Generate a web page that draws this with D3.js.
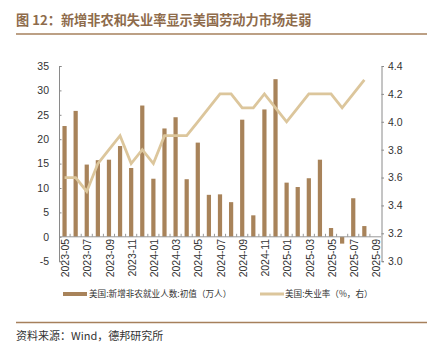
<!DOCTYPE html>
<html><head><meta charset="utf-8">
<script src="https://cdn.jsdelivr.net/npm/d3@7/dist/d3.min.js"></script>
<style>body{margin:0;background:#fff}svg{display:block}</style>
</head><body><div id="chart"></div>
<script>
const months = ["2023-05","2023-06","2023-07","2023-08","2023-09","2023-10","2023-11","2023-12","2024-01","2024-02","2024-03","2024-04","2024-05","2024-06","2024-07","2024-08","2024-09","2024-10","2024-11","2024-12","2025-01","2025-02","2025-03","2025-04","2025-05","2025-06","2025-07","2025-08","2025-09"];
const nfp = [22.7,25.8,14.8,15.7,15.8,18.6,14.1,26.9,11.9,22.2,24.5,11.8,19.3,8.6,8.7,7.1,24.0,4.4,26.1,32.3,11.1,10.2,12.0,15.8,1.8,-1.4,7.9,2.2,null];
const unemp = [3.6,3.6,3.5,3.7,3.8,3.9,3.7,3.8,3.7,3.9,3.9,3.9,4.0,4.1,4.2,4.2,4.1,4.1,4.2,4.1,4.0,4.1,4.2,4.2,4.2,4.1,4.2,4.3,null];
const leftTicks = [-5,0,5,10,15,20,25,30,35];
const rightTicks = [3.0,3.2,3.4,3.6,3.8,4.0,4.2,4.4];
const title = "图 12：新增非农和失业率显示美国劳动力市场走弱";
const seriesNames = ["美国:新增非农就业人数:初值（万人）","美国:失业率（%，右）"];
const source = "资料来源：Wind，德邦研究所";

const W = 435, H = 360;
const barColor = "#A8835A", lineColor = "#DCC69C", brown = "#8E6B4B", axisColor = "#8a8a8a";
const svg = d3.select("#chart").append("svg").attr("width", W).attr("height", H);

// title
svg.append("text").attr("x", 16).attr("y", 25).attr("fill", brown)
  .attr("font-family", "'Noto Sans CJK SC', sans-serif").attr("font-weight", "bold")
  .attr("font-size", 13.2).text(title);
svg.append("line").attr("x1", 16).attr("x2", 427).attr("y1", 34).attr("y2", 34)
  .attr("stroke", "#A6805C").attr("stroke-width", 1.6);

const x = d3.scaleBand().domain(months).range([59, 381]).padding(0);
const yL = d3.scaleLinear().domain([-5, 35]).range([261.2, 66]);
const yR = d3.scaleLinear().domain([3.0, 4.4]).range([261.2, 66]);

// bars
const bw = x.bandwidth() * 0.38;
svg.append("g").selectAll("rect").data(months.map((m, i) => ({m, v: nfp[i]})).filter(d => d.v != null))
  .join("rect")
  .attr("x", d => x(d.m) + x.bandwidth() / 2 - bw / 2)
  .attr("width", bw)
  .attr("y", d => yL(Math.max(0, d.v)))
  .attr("height", d => Math.abs(yL(d.v) - yL(0)))
  .attr("fill", barColor);

// x axis at 0
const x0 = yL(0);
svg.append("line").attr("x1", 59).attr("x2", 381).attr("y1", x0).attr("y2", x0)
  .attr("stroke", "#999").attr("stroke-width", 1);
const xg = svg.append("g");
months.forEach((m, i) => {
  if (i > 0) xg.append("line").attr("x1", x(m)).attr("x2", x(m)).attr("y1", x0).attr("y2", x0 - 3).attr("stroke", "#999");
});
svg.append("g").selectAll("text").data(months.filter((m, i) => i % 2 === 0)).join("text")
  .attr("transform", d => `translate(${x(d) + x.bandwidth() / 2 + 1},${x0 + 2}) rotate(-90)`)
  .attr("text-anchor", "end").attr("dy", "0.35em")
  .attr("font-family", "Arial, 'Liberation Sans', sans-serif").attr("font-size", 10.5).attr("fill", "#333")
  .text(d => d);

// left axis
const la = d3.axisLeft(yL).tickValues(leftTicks).tickSize(-2.5).tickPadding(10).tickFormat(d => String(d));
const lg = svg.append("g").attr("transform", "translate(59,0)").call(la);
lg.select(".domain").attr("stroke", axisColor);
lg.selectAll(".tick line").attr("stroke", axisColor);
lg.selectAll("text").attr("font-family", "Arial, 'Liberation Sans', sans-serif").attr("font-size", 10.5).attr("fill", "#333");

// right axis
const ra = d3.axisRight(yR).tickValues(rightTicks).tickSize(2.5).tickPadding(4).tickFormat(d => d.toFixed(1));
const rg = svg.append("g").attr("transform", "translate(381.5,0)").call(ra);
rg.select(".domain").attr("stroke", axisColor);
rg.selectAll(".tick line").attr("stroke", axisColor);
rg.selectAll("text").attr("font-family", "Arial, 'Liberation Sans', sans-serif").attr("font-size", 10.5).attr("fill", "#333");

// line
const line = d3.line().defined(d => d.v != null)
  .x(d => x(d.m) + x.bandwidth() / 2).y(d => yR(d.v));
svg.append("path").datum(months.map((m, i) => ({m, v: unemp[i]})))
  .attr("d", line).attr("fill", "none").attr("stroke", lineColor).attr("stroke-width", 2.8)
  .attr("stroke-linejoin", "miter");

// legend
const lgY = 294;
svg.append("rect").attr("x", 63).attr("y", lgY - 2).attr("width", 24).attr("height", 4).attr("fill", barColor);
svg.append("text").attr("x", 89).attr("y", lgY).attr("dy", "0.35em")
  .attr("font-family", "'Noto Sans CJK SC', sans-serif").attr("font-size", 8.6).attr("fill", "#333").text(seriesNames[0]);
svg.append("rect").attr("x", 260).attr("y", lgY - 1.5).attr("width", 24).attr("height", 3).attr("fill", lineColor);
svg.append("text").attr("x", 285).attr("y", lgY).attr("dy", "0.35em")
  .attr("font-family", "'Noto Sans CJK SC', sans-serif").attr("font-size", 8.6).attr("fill", "#333").text(seriesNames[1]);

// footer
svg.append("line").attr("x1", 16).attr("x2", 427).attr("y1", 322.5).attr("y2", 322.5)
  .attr("stroke", "#A6805C").attr("stroke-width", 1.6);
svg.append("text").attr("x", 16).attr("y", 336).attr("dy", "0.35em")
  .attr("font-family", "'Noto Sans CJK SC', sans-serif").attr("font-size", 11).attr("fill", "#333").text(source);
</script>
</body></html>
